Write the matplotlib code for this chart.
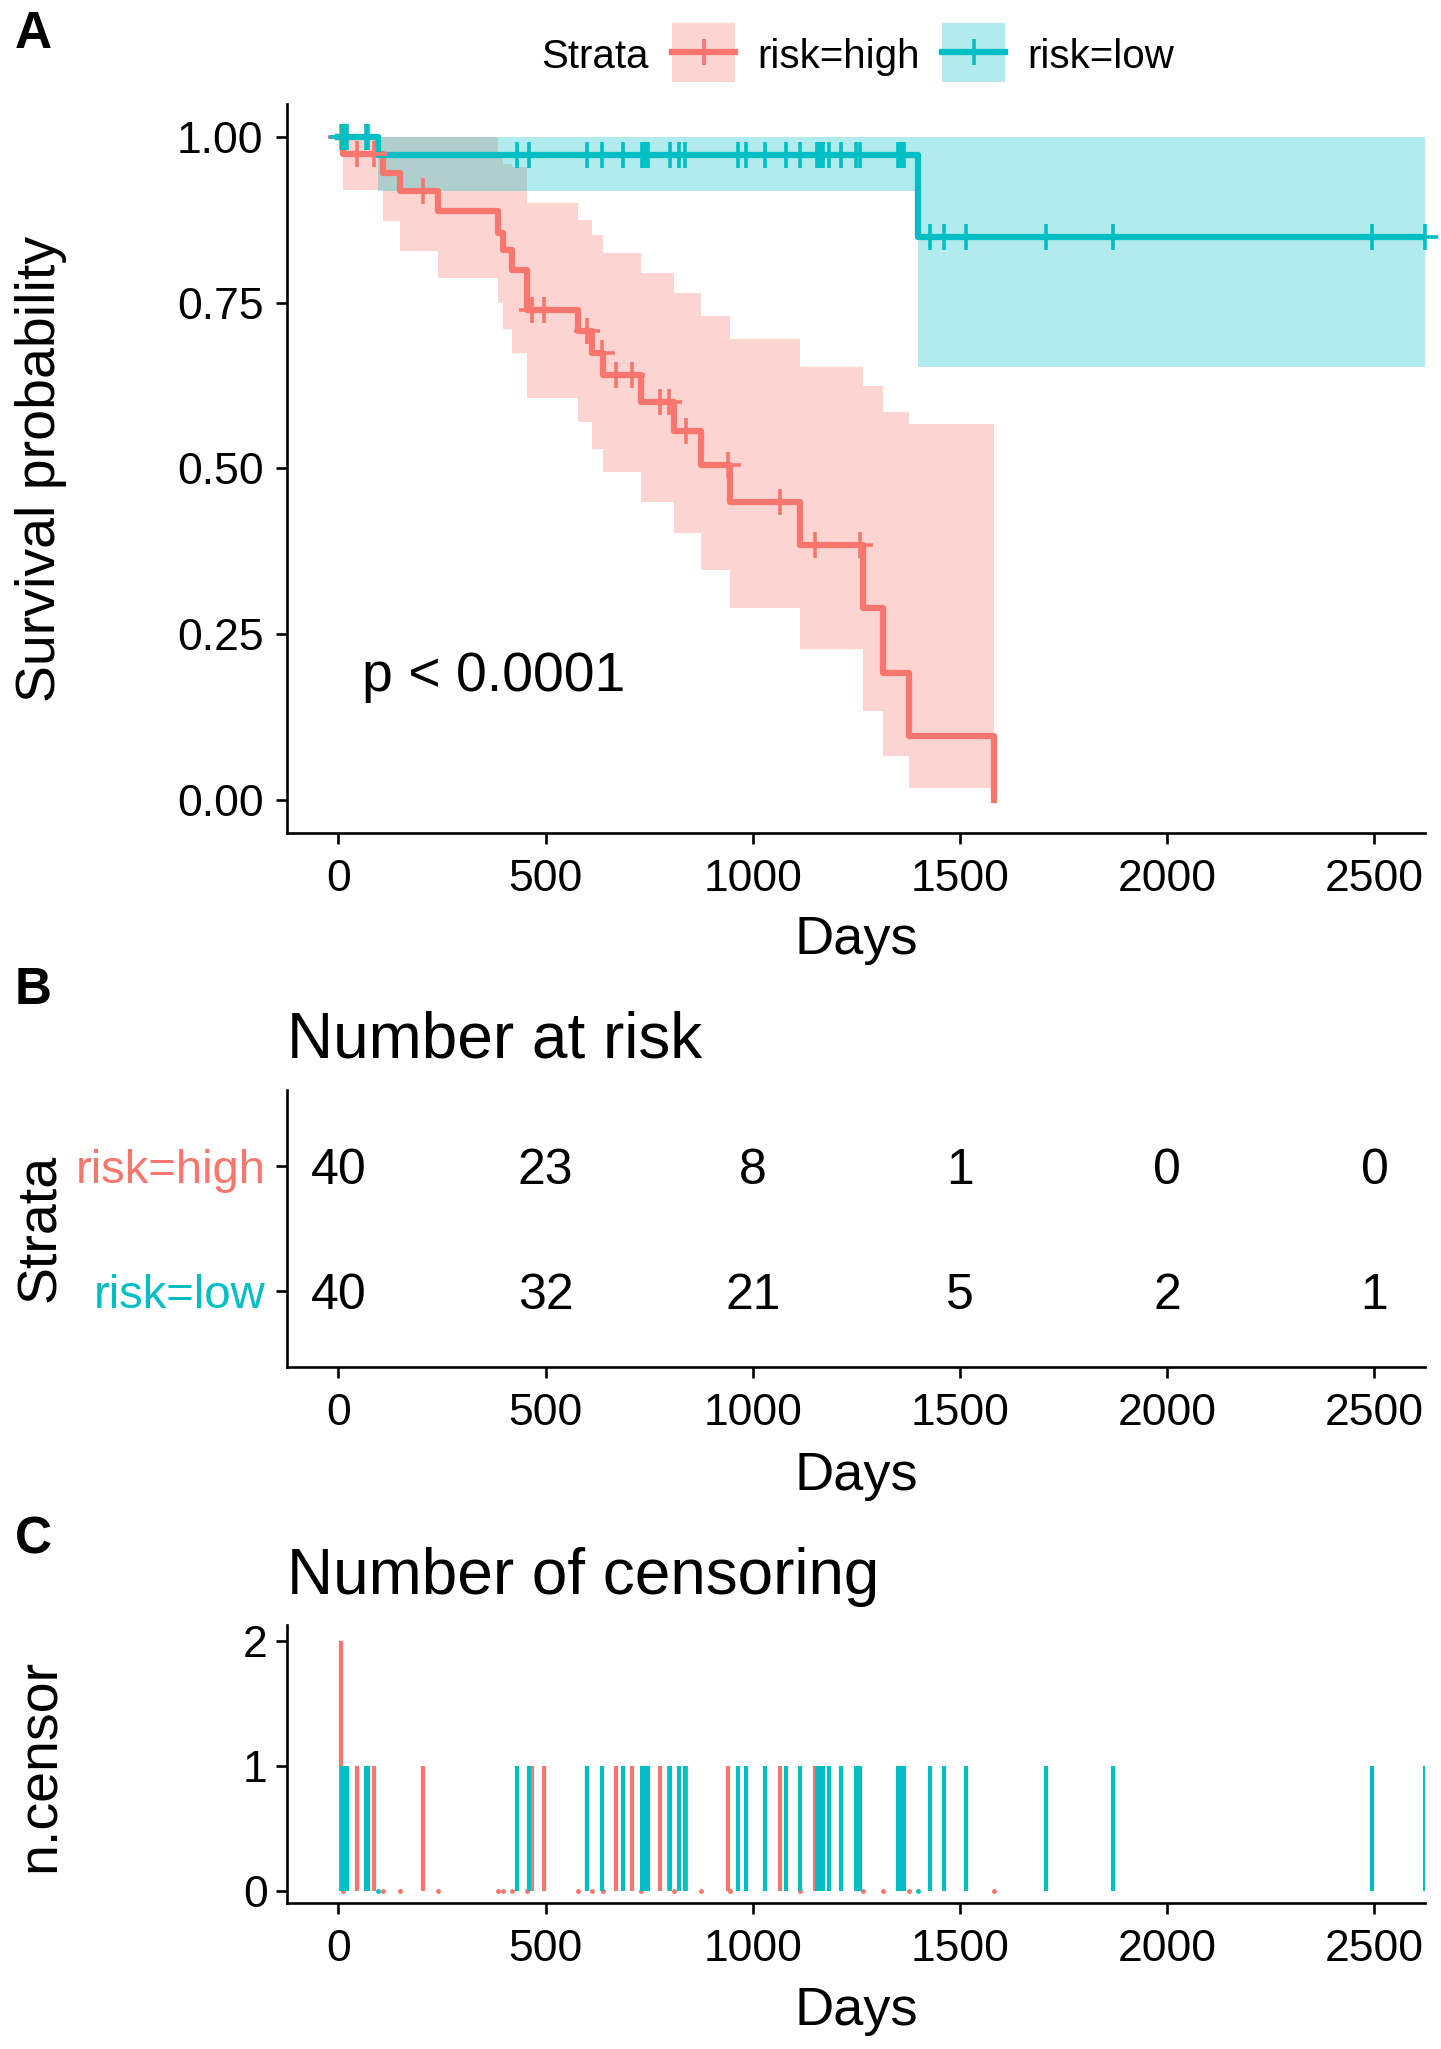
import numpy as np
import matplotlib
matplotlib.use('Agg')
import matplotlib.pyplot as plt
from matplotlib.patches import Rectangle

plt.rcParams['font.family'] = ['Liberation Sans', 'DejaVu Sans']

RED = '#F8766D'
TEAL = '#00BFC4'

# Kaplan-Meier steps, risk=high (value holds from each time to the next)
high_time = [0, 10, 108, 149, 241, 386, 398, 418, 454, 578, 611, 639, 731,
             809, 876, 944, 1113, 1265, 1314, 1378, 1583]
high_surv = [1.0, 0.975, 0.946, 0.918, 0.888, 0.856, 0.829, 0.800, 0.739,
             0.708, 0.674, 0.641, 0.601, 0.556, 0.505, 0.450, 0.385, 0.289,
             0.191, 0.096, 0.0]
high_upper = [1.0, 1.0, 1.0, 1.0, 1.0, 0.97, 0.96, 0.955, 0.90, 0.875, 0.853,
              0.825, 0.795, 0.765, 0.730, 0.695, 0.653, 0.625, 0.585, 0.567, 0.0]
high_lower = [1.0, 0.92, 0.873, 0.828, 0.788, 0.75, 0.71, 0.675, 0.607, 0.570,
              0.53, 0.495, 0.45, 0.402, 0.347, 0.289, 0.227, 0.134, 0.066,
              0.018, 0.0]

# risk=low
low_time = [0, 95, 1399]
low_surv = [1.0, 0.973, 0.850]
low_upper = [1.0, 1.0, 1.0]
low_lower = [1.0, 0.918, 0.653]
low_end = 2621

# censoring times and counts
high_cens_time = [6, 46, 86, 205, 468, 496, 600, 637, 670, 709, 775, 798, 839,
                  939, 1065, 1150, 1258]
high_cens_n = [2, 1, 1, 1, 1, 1, 1, 1, 1, 1, 1, 1, 1, 1, 1, 1, 1]
low_cens_time = [8, 14, 20, 66, 71, 430, 460, 600, 635, 687, 732, 740, 748, 800,
                 822, 836, 965, 983, 1029, 1080, 1113, 1155, 1162, 1170, 1183,
                 1212, 1248, 1258, 1350, 1358, 1366, 1427, 1462, 1515, 1707,
                 1868, 2495, 2621]
low_cens_n = [1, 1, 1, 1, 1, 1, 1, 1, 1, 1, 1, 1, 1, 1, 1, 1, 1, 1, 1, 1, 1, 1,
              1, 1, 1, 1, 1, 1, 1, 1, 1, 1, 1, 1, 1, 1, 1, 1]

# number at risk table
risk_days = [0, 500, 1000, 1500, 2000, 2500]
risk_high = [40, 23, 8, 1, 0, 0]
risk_low = [40, 32, 21, 5, 2, 1]

W, H = 1441, 2049
fig = plt.figure(figsize=(W / 100, H / 100), dpi=100)


def px_axes(left, top, right, bottom):
    return fig.add_axes([left / W, 1 - bottom / H, (right - left) / W,
                         (bottom - top) / H])


def style(ax, ypad):
    for s in ['top', 'right']:
        ax.spines[s].set_visible(False)
    for s in ['left', 'bottom']:
        ax.spines[s].set_linewidth(1.9)
    ax.tick_params(length=8, width=1.9, labelsize=32)
    ax.tick_params(axis='x', pad=11)
    ax.tick_params(axis='y', pad=ypad)
    ax.set_xlim(-124, 2622)
    ax.set_xticks(risk_days)


def step_value(times, vals, t):
    idx = np.searchsorted(times, t, side='right') - 1
    return np.asarray(vals)[idx]


# ---- A: survival curves
axA = px_axes(287, 104, 1425, 833)
style(axA, 9)
axA.fill_between(high_time, high_lower, high_upper, step='post',
                 color=RED, alpha=0.3, lw=0)
lt = low_time + [low_end]
axA.fill_between(lt, low_lower + [low_lower[-1]], low_upper + [low_upper[-1]],
                 step='post', color=TEAL, alpha=0.3, lw=0)
axA.step(high_time, high_surv, where='post', color=RED, lw=4.5)
axA.step(lt, low_surv + [low_surv[-1]], where='post', color=TEAL, lw=4.5)
axA.plot(high_cens_time, step_value(high_time, high_surv, high_cens_time), '+',
         color=RED, ms=19, mew=2.6)
axA.plot(low_cens_time, step_value(low_time, low_surv, low_cens_time), '+',
         color=TEAL, ms=19, mew=2.6, clip_on=False)
axA.set_ylim(-0.05, 1.05)
axA.set_yticks([0, 0.25, 0.5, 0.75, 1.0])
axA.set_yticklabels(['0.00', '0.25', '0.50', '0.75', '1.00'])
axA.text(56, 0.165, 'p < 0.0001', fontsize=40, ha='left', va='baseline')

# ---- B: number at risk
axB = px_axes(287, 1090, 1425, 1367)
style(axB, 7.5)
axB.set_ylim(0.4, 2.6)
axB.set_yticks([1, 2])
axB.set_yticklabels(['risk=low', 'risk=high'], fontsize=34)
axB.get_yticklabels()[0].set_color(TEAL)
axB.get_yticklabels()[1].set_color(RED)
for d, h, l in zip(risk_days, risk_high, risk_low):
    axB.text(d, 2, str(h), fontsize=36, ha='center', va='center_baseline')
    axB.text(d, 1, str(l), fontsize=36, ha='center', va='center_baseline')

# ---- C: number of censoring
axC = px_axes(287, 1625, 1425, 1903)
style(axC, 6)
axC.vlines(high_cens_time, 0, high_cens_n, color=RED, lw=3)
axC.plot(high_time[1:], np.zeros(len(high_time) - 1), 'o', color=RED, ms=2.5)
axC.vlines(low_cens_time, 0, low_cens_n, color=TEAL, lw=3)
axC.plot(low_time[1:], np.zeros(len(low_time) - 1), 'o', color=TEAL, ms=2.5)
axC.set_ylim(-0.1, 2.13)
axC.set_yticks([0, 1, 2])

# ---- overlay text in pixel coordinates
ov = fig.add_axes([0, 0, 1, 1], zorder=10)
ov.set_xlim(0, W)
ov.set_ylim(H, 0)
ov.axis('off')
ov.patch.set_alpha(0)

for letter, yb in [('A', 48), ('B', 1004), ('C', 1553)]:
    ov.text(15, yb, letter, fontsize=37, fontweight='bold', ha='left',
            va='baseline')

for yb in [954, 1490, 2025]:
    ov.text(856, yb, 'Days', fontsize=39, ha='center', va='baseline')

for label, yc in [('Survival probability', 469), ('Strata', 1228),
                  ('n.censor', 1765)]:
    ov.text(55, yc, label, fontsize=40, rotation=90, rotation_mode='anchor',
            ha='center', va='baseline')

ov.text(287, 1058, 'Number at risk', fontsize=46, ha='left', va='baseline')
ov.text(287, 1594, 'Number of censoring', fontsize=46, ha='left', va='baseline')

# legend
ov.text(541, 68, 'Strata', fontsize=29, ha='left', va='baseline')
for x0, col, lab in [(672, RED, 'risk=high'), (942, TEAL, 'risk=low')]:
    ov.add_patch(Rectangle((x0, 23), 63, 59, facecolor=col, alpha=0.3, lw=0))
    ov.plot([x0, x0 + 63], [52, 52], color=col, lw=4.5)
    ov.plot([x0 + 31.5], [52], '+', color=col, ms=19, mew=2.6)
    ov.text(x0 + 85, 68, lab, fontsize=29, ha='left', va='baseline')

fig.savefig('out.png', dpi=100, facecolor='white')
